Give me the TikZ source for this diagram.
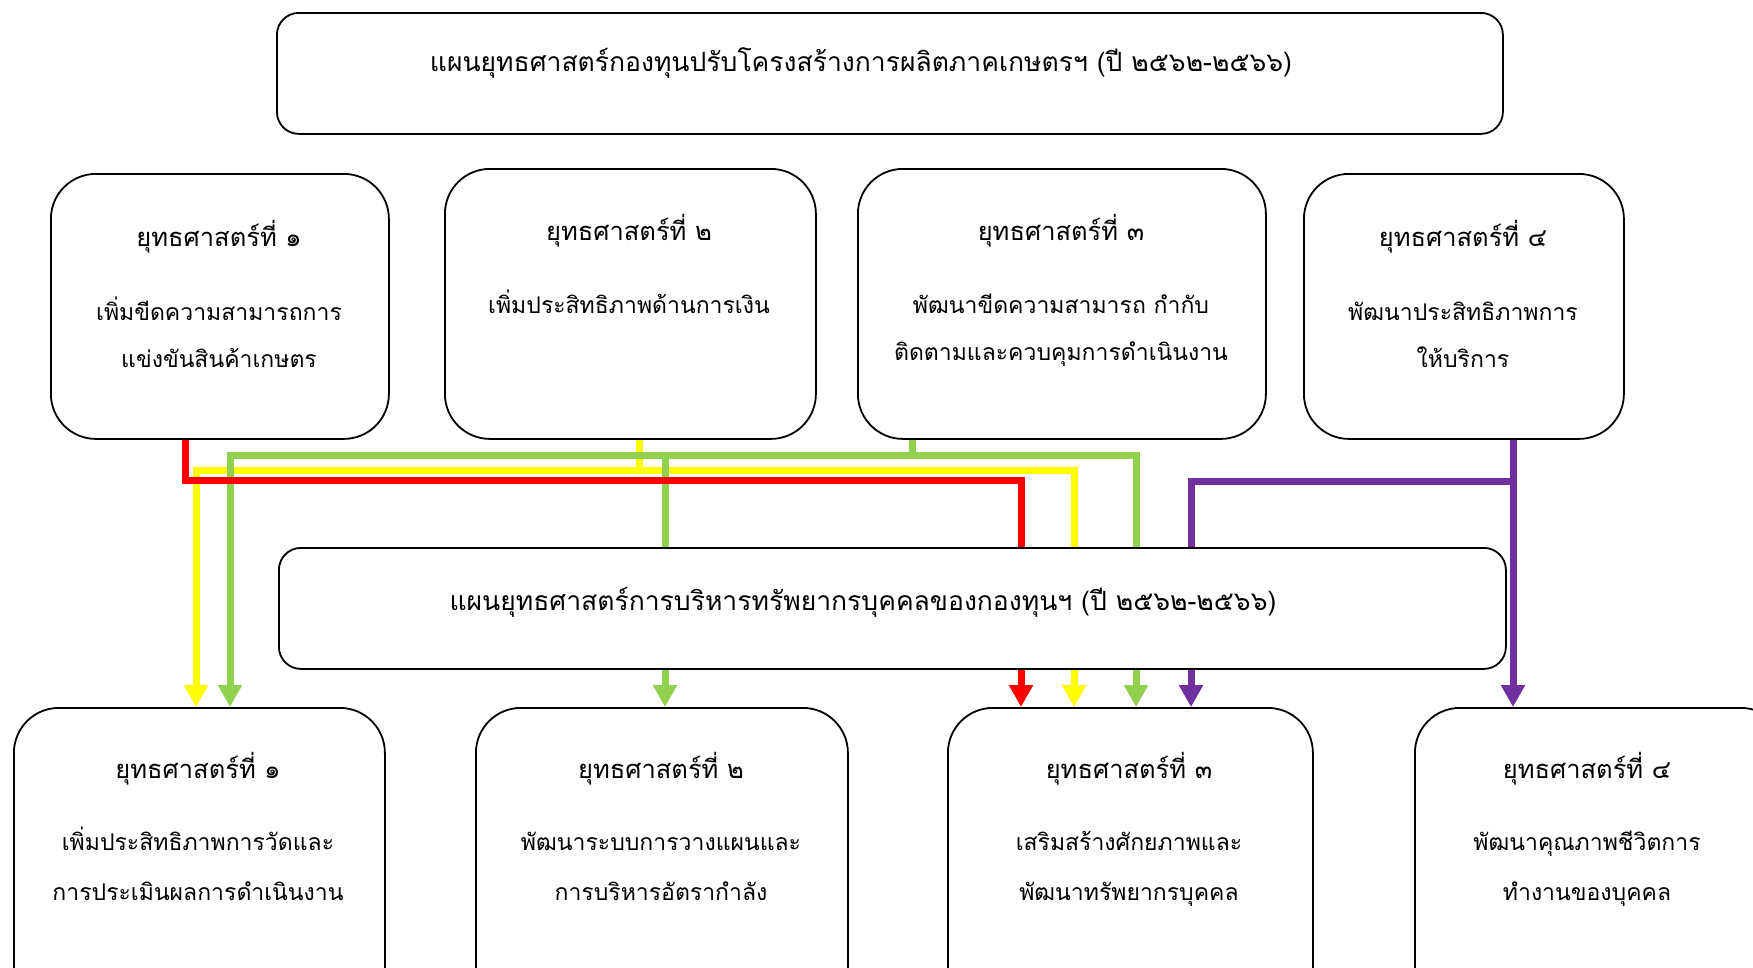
\documentclass[tikz,border=0pt]{standalone}
\usepackage{fontspec}
\newfontfamily\thaifont[Script=Thai]{Loma}
\usetikzlibrary{arrows.meta}
\definecolor{cred}{HTML}{FF0000}
\definecolor{cyel}{HTML}{FFFF00}
\definecolor{cgrn}{HTML}{92D050}
\definecolor{cpur}{HTML}{7030A0}
\begin{document}
\begin{tikzpicture}[x=1pt,y=-1pt,
  box/.style={draw=black,line width=1.8pt,rounded corners=45pt,fill=white,inner sep=0pt,anchor=north west},
  bigbox/.style={draw=black,line width=1.8pt,rounded corners=22pt,fill=white,inner sep=0pt,anchor=north west},
  txt/.style={font=\thaifont\fontsize{23}{28}\selectfont,inner sep=0pt,anchor=base},
  ttl/.style={txt,font=\thaifont\fontsize{25.5}{30}\selectfont},
  plan/.style={txt,font=\thaifont\fontsize{26.5}{31}\selectfont},
  conn/.style={line width=7pt,line join=miter},
  arr/.style={conn,-{Triangle[width=23pt,length=22pt]}},
]
\useasboundingbox (0,0) rectangle (1753,967);
\clip (0,0) rectangle (1753,967);

% top plan
\node[bigbox,minimum width=1226pt,minimum height=121pt] (top) at (276,12) {};
\node[plan] (ttop) at (861,71) {แผนยุทธศาสตร์กองทุนปรับโครงสร้างการผลิตภาคเกษตรฯ (ปี ๒๕๖๒-๒๕๖๖)};

% upper strategies
\node[box,minimum width=338pt,minimum height=265pt] (s1) at (50,173) {};
\node[box,minimum width=371pt,minimum height=270pt] (s2) at (444,168) {};
\node[box,minimum width=408pt,minimum height=270pt] (s3) at (857,168) {};
\node[box,minimum width=320pt,minimum height=265pt] (s4) at (1303,173) {};

\node[ttl] (s1a) at (219,246) {ยุทธศาสตร์ที่ ๑};
\node[txt] (s1b) at (219,320) {เพิ่มขีดความสามารถการ};
\node[txt] (s1c) at (219,367) {แข่งขันสินค้าเกษตร};
\node[ttl] (s2a) at (629,240) {ยุทธศาสตร์ที่ ๒};
\node[txt] (s2b) at (629,313) {เพิ่มประสิทธิภาพด้านการเงิน};
\node[ttl] (s3a) at (1061,240) {ยุทธศาสตร์ที่ ๓};
\node[txt] (s3b) at (1061,313) {พัฒนาขีดความสามารถ กำกับ};
\node[txt] (s3c) at (1061,360) {ติดตามและควบคุมการดำเนินงาน};
\node[ttl] (s4a) at (1463,246) {ยุทธศาสตร์ที่ ๔};
\node[txt] (s4b) at (1463,320) {พัฒนาประสิทธิภาพการ};
\node[txt] (s4c) at (1463,367) {ให้บริการ};

% lower strategies
\node[box,minimum width=371pt,minimum height=320pt] (b1) at (13,707) {};
\node[box,minimum width=372pt,minimum height=320pt] (b2) at (475,707) {};
\node[box,minimum width=365pt,minimum height=320pt] (b3) at (947,707) {};
\node[box,minimum width=371pt,minimum height=320pt] (b4) at (1414,707) {};

\node[ttl] (b1a) at (198,778) {ยุทธศาสตร์ที่ ๑};
\node[txt] (b1b) at (198,850) {เพิ่มประสิทธิภาพการวัดและ};
\node[txt] (b1c) at (198,900) {การประเมินผลการดำเนินงาน};
\node[ttl] (b2a) at (661,778) {ยุทธศาสตร์ที่ ๒};
\node[txt] (b2b) at (661,850) {พัฒนาระบบการวางแผนและ};
\node[txt] (b2c) at (661,900) {การบริหารอัตรากำลัง};
\node[ttl] (b3a) at (1129,778) {ยุทธศาสตร์ที่ ๓};
\node[txt] (b3b) at (1129,850) {เสริมสร้างศักยภาพและ};
\node[txt] (b3c) at (1129,900) {พัฒนาทรัพยากรบุคคล};
\node[ttl] (b4a) at (1587,778) {ยุทธศาสตร์ที่ ๔};
\node[txt] (b4b) at (1587,850) {พัฒนาคุณภาพชีวิตการ};
\node[txt] (b4c) at (1587,900) {ทำงานของบุคคล};

% junction coordinates
\coordinate (y0) at (639,470);
\coordinate (yl) at (196,470);
\coordinate (yr) at (1074,470);
\coordinate (g0) at (912,455);
\coordinate (gl) at (230,455);
\coordinate (gm) at (665,455);
\coordinate (gr) at (1136,455);
\coordinate (r0) at (185,480);
\coordinate (r1) at (1021,480);
\coordinate (p0) at (1513,481);
\coordinate (pl) at (1191,481);

% yellow (strategy 2)
\draw[conn,cyel] (s2.south -| y0) -- (y0);
\draw[arr,cyel] (y0) -- (yl) -- (b1.north -| yl);
\draw[arr,cyel] (y0) -- (yr) -- (b3.north -| yr);
% green (strategy 3)
\draw[conn,cgrn] (s3.south -| g0) -- (g0);
\draw[arr,cgrn] (g0) -- (gl) -- (b1.north -| gl);
\draw[arr,cgrn] (gm) -- (b2.north -| gm);
\draw[arr,cgrn] (g0) -- (gr) -- (b3.north -| gr);
% red (strategy 1)
\draw[arr,cred] (s1.south -| r0) -- (r0) -- (r1) -- (b3.north -| r1);
% purple (strategy 4)
\draw[arr,cpur] (s4.south -| p0) -- (b4.north -| p0);
\draw[arr,cpur] (p0) -- (pl) -- (b3.north -| pl);

% HR plan (drawn over the connectors)
\node[bigbox,minimum width=1227pt,minimum height=121pt] (mid) at (278,547) {};
\node[plan] (tmid) at (863,610) {แผนยุทธศาสตร์การบริหารทรัพยากรบุคคลของกองทุนฯ (ปี ๒๕๖๒-๒๕๖๖)};
\end{tikzpicture}
\end{document}
